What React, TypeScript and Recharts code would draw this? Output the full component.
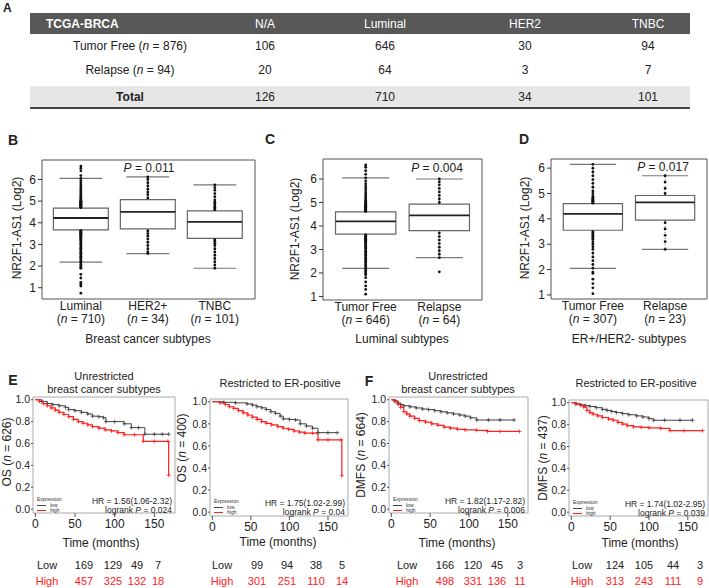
import React from "react";
import { ComposedChart, Line, Scatter, XAxis, YAxis, ReferenceArea, ReferenceLine } from "recharts";

const FONT = "'Liberation Sans', Arial, sans-serif";
const NARROW = "'Liberation Sans Narrow', 'Liberation Sans', Arial, sans-serif";

// ---------- Panel A (table) ----------
const tableHeader = ["TCGA-BRCA", "N/A", "Luminal", "HER2", "TNBC"];
const rowTumorFree = [106, 646, 30, 94];
const rowRelapse = [20, 64, 3, 7];
const rowTotal = [126, 710, 34, 101];
const nTumorFree = 876;
const nRelapse = 94;

// ---------- Panel B ----------
const bGroups = ["Luminal", "HER2+", "TNBC"];
const bCounts = [710, 34, 101];
const bQ1 = [3.67, 3.72, 3.28];
const bMedian = [4.22, 4.5, 4.04];
const bQ3 = [4.68, 5.07, 4.55];
const bWhiskerLow = [2.18, 2.58, 1.9];
const bWhiskerHigh = [6.05, 6.12, 5.75];
const bPointsLuminal = [4.7, 4.72, 4.74, 4.76, 4.78, 4.8, 4.82, 4.84, 4.86, 4.88, 4.9, 4.92, 4.94, 4.96, 4.98, 5.0, 5.03, 5.06, 5.1, 5.16, 5.22, 5.28, 5.35, 5.42, 5.5, 5.58, 5.66, 5.75, 5.85, 5.95, 6.05, 6.18, 6.4, 6.52, 6.62,
  3.64, 3.61, 3.58, 3.55, 3.52, 3.49, 3.46, 3.43, 3.4, 3.37, 3.34, 3.3, 3.26, 3.22, 3.18, 3.12, 3.06, 3.0, 2.94, 2.88, 2.82, 2.76, 2.7, 2.64, 2.58, 2.52, 2.46, 2.4, 2.34, 2.28, 2.22, 2.16, 2.08, 2.0, 1.95, 1.9, 1.62, 1.45, 1.25, 1.15, 1.08, 0.75];
const bPointsHER2 = [5.15, 5.3, 5.42, 5.55, 5.7, 5.85, 6.0, 6.12, 3.62, 3.5, 3.38, 3.25, 3.1, 2.95, 2.8, 2.65, 2.58];
const bPointsTNBC = [4.6, 4.66, 4.72, 4.8, 4.88, 4.95, 5.05, 5.2, 5.35, 5.5, 5.62, 5.75, 3.22, 3.15, 3.05, 2.95, 2.8, 2.65, 2.5, 2.35, 2.2, 2.05, 1.9];

// ---------- Panel C ----------
const cGroups = ["Tumor Free", "Relapse"];
const cCounts = [646, 64];
const cQ1 = [3.65, 3.8];
const cMedian = [4.2, 4.45];
const cQ3 = [4.6, 4.93];
const cWhiskerLow = [2.2, 2.65];
const cWhiskerHigh = [6.05, 6.0];
const cPointsTumorFree = [4.62, 4.64, 4.66, 4.68, 4.7, 4.72, 4.74, 4.76, 4.78, 4.8, 4.82, 4.84, 4.86, 4.88, 4.9, 4.93, 4.96, 5.0, 5.04, 5.1, 5.16, 5.24, 5.32, 5.4, 5.5, 5.6, 5.7, 5.8, 5.92, 6.05, 6.2, 6.35, 6.5, 6.6,
  3.62, 3.59, 3.56, 3.53, 3.5, 3.47, 3.44, 3.41, 3.38, 3.35, 3.32, 3.28, 3.24, 3.2, 3.15, 3.1, 3.04, 2.98, 2.92, 2.86, 2.8, 2.74, 2.68, 2.62, 2.56, 2.5, 2.44, 2.38, 2.32, 2.26, 2.2, 2.12, 2.05, 1.98, 1.92, 1.8, 1.62, 1.45, 1.3, 1.1];
const cPointsRelapse = [5.0, 5.15, 5.3, 5.45, 5.6, 5.75, 5.88, 6.0, 3.7, 3.55, 3.4, 3.25, 3.1, 2.95, 2.8, 2.65, 2.05];

// ---------- Panel D ----------
const dGroups = ["Tumor Free", "Relapse"];
const dCounts = [307, 23];
const dQ1 = [3.55, 3.95];
const dMedian = [4.2, 4.65];
const dQ3 = [4.6, 4.92];
const dWhiskerLow = [2.05, 2.8];
const dWhiskerHigh = [6.15, 5.7];
const dPointsTumorFree = [4.62, 4.65, 4.68, 4.7, 4.72, 4.75, 4.78, 4.8, 4.85, 4.9, 5.0, 5.1, 5.25, 5.4, 5.55, 5.7, 5.85, 6.0, 6.15,
  3.5, 3.45, 3.4, 3.35, 3.3, 3.25, 3.2, 3.1, 3.0, 2.9, 2.8, 2.65, 2.5, 2.35, 2.2, 2.05, 1.9, 1.85, 1.62, 1.45, 1.28, 1.05];
const dPointsRelapse = [5.0, 5.2, 5.45, 5.7, 3.85, 3.6, 3.35, 3.1, 2.8];

// ---------- Panel E / F (Kaplan-Meier) ----------
const osAllLow = [
  { t: 0, s: 1 }, { t: 8, s: 0.985 }, { t: 15, s: 0.965 }, { t: 22, s: 0.955 }, { t: 30, s: 0.945 }, { t: 38, s: 0.93 },
  { t: 42, s: 0.91 }, { t: 50, s: 0.9 }, { t: 58, s: 0.885 }, { t: 66, s: 0.87 }, { t: 72, s: 0.85 }, { t: 80, s: 0.845 },
  { t: 86, s: 0.835 }, { t: 89, s: 0.8 }, { t: 100, s: 0.8 }, { t: 112, s: 0.78 }, { t: 121, s: 0.745 }, { t: 130, s: 0.745 },
  { t: 138, s: 0.685 }, { t: 150, s: 0.685 }, { t: 160, s: 0.685 }, { t: 168, s: 0.685 },
];
const osAllHigh = [
  { t: 0, s: 1 }, { t: 5, s: 0.985 }, { t: 10, s: 0.965 }, { t: 15, s: 0.945 }, { t: 20, s: 0.925 }, { t: 25, s: 0.905 },
  { t: 30, s: 0.885 }, { t: 36, s: 0.865 }, { t: 42, s: 0.845 }, { t: 48, s: 0.82 }, { t: 54, s: 0.8 }, { t: 60, s: 0.785 },
  { t: 66, s: 0.77 }, { t: 72, s: 0.755 }, { t: 80, s: 0.74 }, { t: 88, s: 0.725 }, { t: 96, s: 0.715 }, { t: 104, s: 0.7 },
  { t: 112, s: 0.68 }, { t: 125, s: 0.68 }, { t: 136, s: 0.62 }, { t: 150, s: 0.62 }, { t: 167, s: 0.62 }, { t: 168, s: 0.31 },
];
const osErLow = [
  { t: 0, s: 1 }, { t: 15, s: 0.995 }, { t: 30, s: 0.99 }, { t: 45, s: 0.98 }, { t: 52, s: 0.97 }, { t: 58, s: 0.955 },
  { t: 64, s: 0.945 }, { t: 70, s: 0.93 }, { t: 76, s: 0.91 }, { t: 82, s: 0.895 }, { t: 88, s: 0.87 }, { t: 92, s: 0.845 },
  { t: 100, s: 0.84 }, { t: 108, s: 0.835 }, { t: 114, s: 0.8 }, { t: 122, s: 0.78 }, { t: 130, s: 0.76 }, { t: 137, s: 0.72 },
  { t: 150, s: 0.72 }, { t: 162, s: 0.72 },
];
const osErHigh = [
  { t: 0, s: 1 }, { t: 10, s: 0.99 }, { t: 17, s: 0.975 }, { t: 22, s: 0.955 }, { t: 28, s: 0.94 }, { t: 34, s: 0.92 },
  { t: 40, s: 0.9 }, { t: 46, s: 0.88 }, { t: 52, s: 0.86 }, { t: 58, s: 0.84 }, { t: 64, s: 0.82 }, { t: 70, s: 0.805 },
  { t: 77, s: 0.79 }, { t: 85, s: 0.775 }, { t: 92, s: 0.76 }, { t: 99, s: 0.75 }, { t: 106, s: 0.735 }, { t: 113, s: 0.725 },
  { t: 120, s: 0.715 }, { t: 130, s: 0.715 }, { t: 137, s: 0.655 }, { t: 150, s: 0.655 }, { t: 167, s: 0.655 }, { t: 168, s: 0.33 },
];
const dmfsAllLow = [
  { t: 0, s: 1 }, { t: 4, s: 0.99 }, { t: 8, s: 0.97 }, { t: 12, s: 0.955 }, { t: 16, s: 0.945 }, { t: 24, s: 0.935 },
  { t: 32, s: 0.925 }, { t: 40, s: 0.915 }, { t: 48, s: 0.91 }, { t: 56, s: 0.9 }, { t: 64, s: 0.89 }, { t: 72, s: 0.88 },
  { t: 80, s: 0.87 }, { t: 88, s: 0.86 }, { t: 95, s: 0.85 }, { t: 102, s: 0.835 }, { t: 110, s: 0.815 }, { t: 125, s: 0.815 },
  { t: 140, s: 0.815 }, { t: 158, s: 0.815 },
];
const dmfsAllHigh = [
  { t: 0, s: 1 }, { t: 5, s: 0.985 }, { t: 9, s: 0.96 }, { t: 12, s: 0.93 }, { t: 16, s: 0.89 }, { t: 20, s: 0.87 },
  { t: 24, s: 0.85 }, { t: 30, s: 0.83 }, { t: 36, s: 0.81 }, { t: 44, s: 0.795 }, { t: 52, s: 0.78 }, { t: 60, s: 0.765 },
  { t: 68, s: 0.75 }, { t: 76, s: 0.74 }, { t: 85, s: 0.73 }, { t: 95, s: 0.725 }, { t: 110, s: 0.72 }, { t: 124, s: 0.71 },
  { t: 140, s: 0.71 }, { t: 165, s: 0.71 },
];
const dmfsErLow = [
  { t: 0, s: 1 }, { t: 6, s: 0.99 }, { t: 12, s: 0.98 }, { t: 18, s: 0.975 }, { t: 24, s: 0.965 }, { t: 32, s: 0.955 },
  { t: 40, s: 0.94 }, { t: 46, s: 0.93 }, { t: 52, s: 0.92 }, { t: 58, s: 0.91 }, { t: 66, s: 0.9 }, { t: 74, s: 0.89 },
  { t: 84, s: 0.88 }, { t: 92, s: 0.87 }, { t: 100, s: 0.855 }, { t: 106, s: 0.84 }, { t: 120, s: 0.84 }, { t: 140, s: 0.84 },
  { t: 156, s: 0.84 },
];
const dmfsErHigh = [
  { t: 0, s: 1 }, { t: 6, s: 0.99 }, { t: 12, s: 0.975 }, { t: 16, s: 0.96 }, { t: 20, s: 0.93 }, { t: 24, s: 0.91 },
  { t: 28, s: 0.895 }, { t: 34, s: 0.88 }, { t: 40, s: 0.865 }, { t: 48, s: 0.85 }, { t: 54, s: 0.84 }, { t: 60, s: 0.82 },
  { t: 66, s: 0.805 }, { t: 72, s: 0.79 }, { t: 80, s: 0.78 }, { t: 90, s: 0.775 }, { t: 100, s: 0.77 }, { t: 115, s: 0.765 },
  { t: 127, s: 0.745 }, { t: 145, s: 0.745 }, { t: 169, s: 0.745 },
];

const timeTicks = [0, 50, 100, 150];
const survTicks = [0, 0.2, 0.4, 0.6, 0.8, 1.0];
const logTicks = [1, 2, 3, 4, 5, 6];

const riskOsAllLow = [169, 129, 49, 7];
const riskOsAllHigh = [457, 325, 132, 18];
const riskOsErLow = [99, 94, 38, 5];
const riskOsErHigh = [301, 251, 110, 14];
const riskDmfsAllLow = [166, 120, 45, 3];
const riskDmfsAllHigh = [498, 331, 136, 11];
const riskDmfsErLow = [124, 105, 44, 3];
const riskDmfsErHigh = [313, 243, 111, 9];

const RED = "#ff2020";

// ---------- helpers ----------
function Txt({ x, y, size = 12, anchor = "middle", bold = false, color = "#222", family = FONT, children }: any) {
  const tx = anchor === "middle" ? "-50%" : anchor === "end" ? "-100%" : "0";
  return (
    <div
      style={{
        position: "absolute", left: x, top: y, transform: `translate(${tx},-50%)`, whiteSpace: "nowrap",
        fontSize: size, fontWeight: bold ? "bold" : "normal", color, fontFamily: family, lineHeight: 1,
      }}
    >
      {children}
    </div>
  );
}

function VTxt({ x, y, size = 12, children }: any) {
  return (
    <div
      style={{
        position: "absolute", left: x, top: y, transform: "translate(-50%,-50%) rotate(-90deg)", whiteSpace: "nowrap",
        fontSize: size, color: "#222", fontFamily: FONT, lineHeight: 1,
      }}
    >
      {children}
    </div>
  );
}

function BoxPanel(props: any) {
  const { left, top, w, h, xDomain, yDomain, groups, counts, q1, med, q3, wlo, whi, points } = props;
  const yW = 34;
  const mt = 4;
  const xH = 30;
  const pts = points.flatMap((arr: number[], i: number) => arr.map((v) => ({ x: i + 1, y: v })));
  const half = 0.41;
  const cap = 0.32;
  const CatTick = (p: any) => {
    const i = Math.round(p.payload.value) - 1;
    return (
      <g>
        <text x={p.x} y={p.y + 11} textAnchor="middle" fontSize={12} fill="#222" fontFamily={FONT}>{groups[i]}</text>
        <text x={p.x} y={p.y + 24} textAnchor="middle" fontSize={12} fill="#222" fontFamily={FONT}>
          (<tspan fontStyle="italic">n</tspan> = {counts[i]})
        </text>
      </g>
    );
  };
  return (
    <div style={{ position: "absolute", left: left - yW, top: top - mt }}>
      <ComposedChart width={yW + w + 4} height={mt + h + xH} margin={{ top: mt, right: 4, bottom: 0, left: 0 }}>
        <XAxis type="number" dataKey="x" domain={xDomain} ticks={groups.map((_: any, i: number) => i + 1)} tick={CatTick}
          axisLine={false} tickLine={false} tickSize={0} tickMargin={0} height={xH} allowDataOverflow interval={0} />
        <YAxis type="number" domain={yDomain} ticks={logTicks} width={yW} axisLine={false} tickSize={4}
          tickLine={{ stroke: "#333" }} tick={{ fontSize: 12, fill: "#222", fontFamily: FONT }} allowDataOverflow />
        <ReferenceArea x1={xDomain[0]} x2={xDomain[1]} y1={yDomain[0]} y2={yDomain[1]} fill="none" stroke="#555" strokeWidth={1} />
        {groups.map((_: any, i: number) => (
          <ReferenceLine key={`wu${i}`} segment={[{ x: i + 1, y: q3[i] }, { x: i + 1, y: whi[i] }]} stroke="#555" strokeDasharray="1 2" />
        ))}
        {groups.map((_: any, i: number) => (
          <ReferenceLine key={`wl${i}`} segment={[{ x: i + 1, y: q1[i] }, { x: i + 1, y: wlo[i] }]} stroke="#555" strokeDasharray="1 2" />
        ))}
        {groups.map((_: any, i: number) => (
          <ReferenceLine key={`cu${i}`} segment={[{ x: i + 1 - cap, y: whi[i] }, { x: i + 1 + cap, y: whi[i] }]} stroke="#777" strokeWidth={1.2} />
        ))}
        {groups.map((_: any, i: number) => (
          <ReferenceLine key={`cl${i}`} segment={[{ x: i + 1 - cap, y: wlo[i] }, { x: i + 1 + cap, y: wlo[i] }]} stroke="#777" strokeWidth={1.2} />
        ))}
        <Scatter data={pts} dataKey="y" isAnimationActive={false}
          shape={(p: any) => <circle cx={p.cx} cy={p.cy} r={1.4} fill="#111" />} />
        {groups.map((_: any, i: number) => (
          <ReferenceArea key={`b${i}`} x1={i + 1 - half} x2={i + 1 + half} y1={q1[i]} y2={q3[i]} fill="#fff" fillOpacity={1} stroke="#666" strokeWidth={1.2} />
        ))}
        {groups.map((_: any, i: number) => (
          <ReferenceLine key={`m${i}`} segment={[{ x: i + 1 - half, y: med[i] }, { x: i + 1 + half, y: med[i] }]} stroke="#222" strokeWidth={1.8} />
        ))}
      </ComposedChart>
    </div>
  );
}

function KMPanel(props: any) {
  const { left, top, w, h, low, high } = props;
  const yW = 26;
  const mt = 4;
  const xH = 22;
  const xDomain = [-3, 176];
  const yDomain = [-0.035, 1.025];
  const plus = (color: string) => (p: any) => {
    if (p.index === 0) return <g key={`n${p.index}`} />;
    return <path key={`p${p.index}`} d={`M${p.cx - 2},${p.cy}h4M${p.cx},${p.cy - 2}v4`} stroke={color} strokeWidth={0.8} fill="none" />;
  };
  return (
    <div style={{ position: "absolute", left: left - yW, top: top - mt }}>
      <ComposedChart width={yW + w + 3} height={mt + h + xH} margin={{ top: mt, right: 3, bottom: 0, left: 0 }}>
        <XAxis type="number" dataKey="t" domain={xDomain} ticks={timeTicks} axisLine={false} tickSize={4}
          tickLine={{ stroke: "#555" }} tick={{ fontSize: 12, fill: "#222", fontFamily: FONT }} height={xH} allowDataOverflow interval={0} />
        <YAxis type="number" domain={yDomain} ticks={survTicks} width={yW} axisLine={false} tickSize={2} tickMargin={1}
          tickLine={{ stroke: "#555" }} tick={{ fontSize: 10.5, fill: "#222", fontFamily: FONT }}
          tickFormatter={(v: number) => v.toFixed(1)} allowDataOverflow interval={0} />
        <ReferenceArea x1={xDomain[0]} x2={xDomain[1]} y1={yDomain[0]} y2={yDomain[1]} fill="none" stroke="#aaa" strokeWidth={1} />
        <Line data={low} dataKey="s" type="stepAfter" stroke="#444" strokeWidth={1} dot={plus("#444")} isAnimationActive={false} />
        <Line data={high} dataKey="s" type="stepAfter" stroke={RED} strokeWidth={1.2} dot={plus(RED)} isAnimationActive={false} />
      </ComposedChart>
    </div>
  );
}

function KMLegend({ x, y }: any) {
  return (
    <>
      <Txt x={x} y={y} size={5} anchor="start" color="#333">Expression</Txt>
      <div style={{ position: "absolute", left: x, top: y + 6, width: 9, height: 1, background: "#444" }} />
      <Txt x={x + 13} y={y + 6} size={5} anchor="start" color="#333">low</Txt>
      <div style={{ position: "absolute", left: x, top: y + 11, width: 9, height: 1, background: RED }} />
      <Txt x={x + 13} y={y + 11} size={5} anchor="start" color="#333">high</Txt>
    </>
  );
}

function RiskRows({ labelX, xs, low, high }: any) {
  return (
    <>
      <Txt x={labelX} y={565} size={11}>Low</Txt>
      {low.map((v: number, i: number) => <Txt key={`l${i}`} x={xs[i]} y={565} size={11}>{v}</Txt>)}
      <Txt x={labelX} y={581} size={11} color={RED}>High</Txt>
      {high.map((v: number, i: number) => <Txt key={`h${i}`} x={xs[i]} y={581} size={11} color={RED}>{v}</Txt>)}
    </>
  );
}

export default function App() {
  const colX = [130, 265, 385, 525, 648];
  return (
    <div style={{ position: "absolute", left: 0, top: 0, width: 709, height: 588, background: "#fff", fontFamily: FONT, overflow: "hidden" }}>
      {/* Panel A */}
      <Txt x={3} y={8} size={12} bold anchor="start">A</Txt>
      <div style={{ position: "absolute", left: 30, top: 13, width: 660, height: 21, background: "#585858" }} />
      <Txt x={46} y={23.5} size={12} bold anchor="start" color="#fff" family={NARROW}>{tableHeader[0]}</Txt>
      {tableHeader.slice(1).map((c, i) => <Txt key={c} x={colX[i + 1]} y={23.5} size={12} color="#fff" family={NARROW}>{c}</Txt>)}
      <Txt x={colX[0]} y={46} size={12} family={NARROW}>Tumor Free (<i>n</i> = {nTumorFree})</Txt>
      {rowTumorFree.map((v, i) => <Txt key={`tf${i}`} x={colX[i + 1]} y={46} size={12} family={NARROW}>{v}</Txt>)}
      <Txt x={colX[0]} y={70} size={12} family={NARROW}>Relapse (<i>n</i> =  {nRelapse})</Txt>
      {rowRelapse.map((v, i) => <Txt key={`rl${i}`} x={colX[i + 1]} y={70} size={12} family={NARROW}>{v}</Txt>)}
      <div style={{ position: "absolute", left: 30, top: 86, width: 660, height: 21, background: "#e6e6e6" }} />
      <div style={{ position: "absolute", left: 30, top: 107, width: 660, height: 2, background: "#444" }} />
      <Txt x={colX[0]} y={97} size={12} bold family={NARROW}>Total</Txt>
      {rowTotal.map((v, i) => <Txt key={`to${i}`} x={colX[i + 1]} y={97} size={12} family={NARROW}>{v}</Txt>)}

      {/* Panel B */}
      <Txt x={13} y={140} size={14} bold>B</Txt>
      <BoxPanel left={42} top={160} w={213} h={139} xDomain={[0.42, 3.6]} yDomain={[0.48, 6.9]}
        groups={bGroups} counts={bCounts} q1={bQ1} med={bMedian} q3={bQ3} wlo={bWhiskerLow} whi={bWhiskerHigh}
        points={[bPointsLuminal, bPointsHER2, bPointsTNBC]} />
      <VTxt x={17} y={228} size={12}>NR2F1-AS1 (Log2)</VTxt>
      <Txt x={149} y={168} size={12}><i>P</i> = 0.011</Txt>
      <Txt x={148} y={339} size={12}>Breast cancer subtypes</Txt>

      {/* Panel C */}
      <Txt x={270} y={139} size={14} bold>C</Txt>
      <BoxPanel left={323} top={159} w={159} h={141} xDomain={[0.42, 2.58]} yDomain={[0.85, 6.85]}
        groups={cGroups} counts={cCounts} q1={cQ1} med={cMedian} q3={cQ3} wlo={cWhiskerLow} whi={cWhiskerHigh}
        points={[cPointsTumorFree, cPointsRelapse]} />
      <VTxt x={295} y={229} size={12}>NR2F1-AS1 (Log2)</VTxt>
      <Txt x={437} y={168} size={12}><i>P</i> = 0.004</Txt>
      <Txt x={402} y={339} size={12}>Luminal subtypes</Txt>

      {/* Panel D */}
      <Txt x={524} y={139} size={14} bold>D</Txt>
      <BoxPanel left={551} top={159} w={156} h={140} xDomain={[0.42, 2.58]} yDomain={[0.84, 6.36]}
        groups={dGroups} counts={dCounts} q1={dQ1} med={dMedian} q3={dQ3} wlo={dWhiskerLow} whi={dWhiskerHigh}
        points={[dPointsTumorFree, dPointsRelapse]} />
      <VTxt x={525} y={228} size={12}>NR2F1-AS1 (Log2)</VTxt>
      <Txt x={663} y={167} size={12}><i>P</i> = 0.017</Txt>
      <Txt x={629} y={339} size={12}>ER+/HER2- subtypes</Txt>

      {/* Panel E */}
      <Txt x={13} y={380} size={14} bold>E</Txt>
      <Txt x={104} y={376} size={11}>Unrestricted</Txt>
      <Txt x={104} y={389} size={11}>breast cancer subtypes</Txt>
      <KMPanel left={33} top={397} w={142} h={116} low={osAllLow} high={osAllHigh} />
      <VTxt x={7} y={452} size={12}>OS (<i>n</i> = 626)</VTxt>
      <KMLegend x={37} y={499} />
      <Txt x={172} y={501} size={8.5} anchor="end">HR = 1.56(1.06-2.32)</Txt>
      <Txt x={172} y={510} size={8.5} anchor="end">logrank <i>P</i> =  0.024</Txt>
      <Txt x={101} y={543} size={12}>Time (months)</Txt>
      <RiskRows labelX={47} xs={[84, 113, 137, 158]} low={riskOsAllLow} high={riskOsAllHigh} />

      <Txt x={280} y={383} size={11}>Restricted to ER-positive</Txt>
      <KMPanel left={210} top={399} w={138} h={117} low={osErLow} high={osErHigh} />
      <VTxt x={182} y={448} size={12}>OS (<i>n</i> = 400)</VTxt>
      <KMLegend x={214} y={501} />
      <Txt x={345} y={503} size={8.5} anchor="end">HR = 1.75(1.02-2.99)</Txt>
      <Txt x={345} y={512} size={8.5} anchor="end">logrank <i>P</i> =  0.04</Txt>
      <Txt x={278} y={542} size={12}>Time (months)</Txt>
      <RiskRows labelX={222} xs={[257, 287, 316, 342]} low={riskOsErLow} high={riskOsErHigh} />

      {/* Panel F */}
      <Txt x={369} y={381} size={14} bold>F</Txt>
      <Txt x={458} y={376} size={11}>Unrestricted</Txt>
      <Txt x={458} y={389} size={11}>breast cancer subtypes</Txt>
      <KMPanel left={389} top={397} w={139} h={116} low={dmfsAllLow} high={dmfsAllHigh} />
      <VTxt x={361} y={455} size={12}>DMFS (<i>n</i> = 664)</VTxt>
      <KMLegend x={393} y={499} />
      <Txt x={525} y={501} size={8.5} anchor="end">HR = 1.82(1.17-2.82)</Txt>
      <Txt x={525} y={510} size={8.5} anchor="end">logrank <i>P</i> =  0.006</Txt>
      <Txt x={457} y={543} size={12}>Time (months)</Txt>
      <RiskRows labelX={407} xs={[445, 473, 497, 520]} low={riskDmfsAllLow} high={riskDmfsAllHigh} />

      <Txt x={636} y={383} size={11}>Restricted to ER-positive</Txt>
      <KMPanel left={569} top={400} w={139} h={116} low={dmfsErLow} high={dmfsErHigh} />
      <VTxt x={543} y={458} size={12}>DMFS (<i>n</i> = 437)</VTxt>
      <KMLegend x={573} y={502} />
      <Txt x={705} y={504} size={8.5} anchor="end">HR = 1.74(1.02-2.95)</Txt>
      <Txt x={705} y={513} size={8.5} anchor="end">logrank <i>P</i> = 0.039</Txt>
      <Txt x={640} y={543} size={12}>Time (months)</Txt>
      <RiskRows labelX={582} xs={[615, 644, 673, 700]} low={riskDmfsErLow} high={riskDmfsErHigh} />
    </div>
  );
}
